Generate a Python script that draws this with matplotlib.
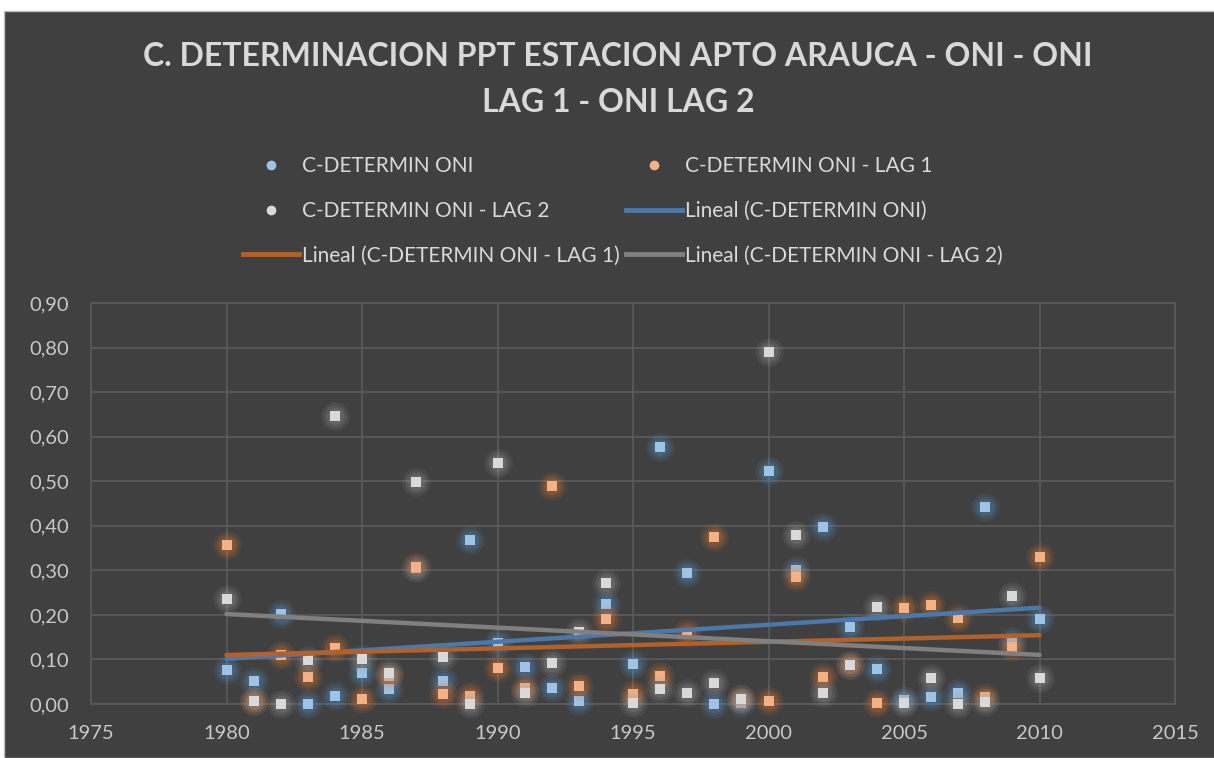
import numpy as np
import matplotlib
matplotlib.use("Agg")
import matplotlib.pyplot as plt
from matplotlib.lines import Line2D
from matplotlib.patches import Rectangle
from matplotlib.ticker import FuncFormatter

plt.rcParams['font.family'] = ['Lato', 'DejaVu Sans']

years = list(range(1980, 2011))
oni = [0.076, 0.052, 0.203, 0.000, 0.019, 0.070, 0.034, 0.305, 0.052, 0.368,
       0.136, 0.084, 0.037, 0.007, 0.224, 0.089, 0.577, 0.294, 0.000, 0.002,
       0.523, 0.300, 0.398, 0.172, 0.078, 0.008, 0.015, 0.025, 0.442, 0.142,
       0.190]
oni_lag1 = [0.356, 0.007, 0.110, 0.060, 0.125, 0.012, 0.063, 0.308, 0.022, 0.019,
            0.081, 0.035, 0.490, 0.040, 0.190, 0.022, 0.063, 0.160, 0.375, 0.012,
            0.007, 0.285, 0.061, 0.088, 0.002, 0.215, 0.223, 0.194, 0.016, 0.128,
            0.330]
oni_lag2 = [0.235, 0.007, 0.000, 0.099, 0.646, 0.100, 0.069, 0.498, 0.106, 0.000,
            0.541, 0.025, 0.091, 0.161, 0.272, 0.003, 0.034, 0.025, 0.048, 0.011,
            0.790, 0.380, 0.025, 0.087, 0.218, 0.002, 0.059, 0.001, 0.004, 0.243,
            0.059]

labels = ["C-DETERMIN ONI", "C-DETERMIN ONI - LAG 1", "C-DETERMIN ONI - LAG 2"]
point_colors = ["#9dc3e6", "#f4b183", "#d9d9d9"]
glow_colors = ["#5b9bd5", "#ed7d31", "#a5a5a5"]
trend_colors = ["#4a78a8", "#b0612c", "#808080"]

bg = "#404040"
txt = "#d9d9d9"
tick_txt = "#c8c8c8"

fig = plt.figure(figsize=(12.14, 7.58), dpi=100, facecolor="white")
fig.patches.append(Rectangle((4 / 1214, 0), 1, 1 - 11 / 758, transform=fig.transFigure,
                             facecolor=bg, edgecolor="#bfbfbf", linewidth=1, zorder=-10))

ax = fig.add_axes([91 / 1214, 54 / 758, (1175 - 91) / 1214, (704 - 303) / 758])
ax.set_facecolor(bg)

x = np.array(years)
series = [oni, oni_lag1, oni_lag2]
for i, ys in enumerate(series):
    ys = np.array(ys)
    # soft glow behind each square marker
    for s, a in [(420, 0.10), (260, 0.14), (150, 0.18)]:
        ax.scatter(x, ys, s=s, marker="o", color=glow_colors[i], alpha=a,
                   linewidths=0, zorder=3 + i, clip_on=False)
    ax.scatter(x, ys, s=52, marker="s", color=point_colors[i], linewidths=0,
               zorder=3 + i, clip_on=False)

# linear trend lines
for i, ys in enumerate(series):
    m, b = np.polyfit(x, ys, 1)
    ax.plot([x[0], x[-1]], [m * x[0] + b, m * x[-1] + b], color=trend_colors[i],
            linewidth=3.2, solid_capstyle="round", zorder=7)

ax.set_xlim(1975, 2015)
ax.set_ylim(0, 0.9)
ax.set_xticks(range(1975, 2016, 5))
ax.set_yticks(np.arange(0, 0.91, 0.1))
ax.yaxis.set_major_formatter(FuncFormatter(lambda v, p: f"{v:.2f}".replace(".", ",")))
ax.grid(True, color="#595959", linewidth=1.3)
ax.set_axisbelow(True)
for sp in ax.spines.values():
    sp.set_color("#595959")
    sp.set_linewidth(1.3)
ax.tick_params(colors=tick_txt, labelsize=14.5, length=0)
ax.tick_params(axis="x", pad=15)
ax.tick_params(axis="y", pad=16)

fig.text(0.509, 1 - 57 / 758, "C. DETERMINACION PPT ESTACION APTO ARAUCA - ONI - ONI",
         ha="center", va="center", fontsize=23, fontweight="bold", color=txt)
fig.text(0.509, 1 - 102 / 758, "LAG 1 - ONI LAG 2",
         ha="center", va="center", fontsize=23, fontweight="bold", color=txt)

h_pts = [Line2D([], [], linestyle="none", marker="o", markersize=6,
                color=point_colors[i]) for i in range(3)]
h_lines = [Line2D([], [], color=trend_colors[i], linewidth=3.5) for i in range(3)]
l_lines = [f"Lineal ({l})" for l in labels]
handles = [h_pts[0], h_pts[2], h_lines[1], h_pts[1], h_lines[0], h_lines[2]]
names = [labels[0], labels[2], l_lines[1], labels[1], l_lines[0], l_lines[2]]
leg = fig.legend(handles, names, ncol=2, loc="center", bbox_to_anchor=(0.513, 1 - 211 / 758),
                 frameon=False, fontsize=15, labelcolor=txt, handlelength=2.7,
                 handletextpad=0.15, columnspacing=0.3, labelspacing=1.18)

fig.savefig("out.png", dpi=100, facecolor=fig.get_facecolor())
